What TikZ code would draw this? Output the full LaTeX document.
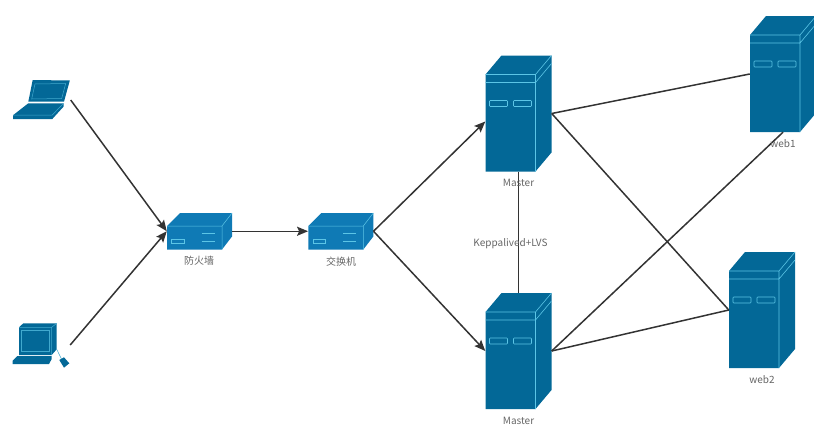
\documentclass[tikz,border=0pt]{standalone}
\usepackage{fontspec}
\setmainfont{Noto Sans CJK SC}
\usetikzlibrary{arrows.meta}
\definecolor{rackblue}{HTML}{036897}
\definecolor{boxblue}{HTML}{0F7AB5}
\definecolor{edgeblue}{HTML}{5CC5E6}
\definecolor{wiregray}{HTML}{333333}
\definecolor{labelgray}{HTML}{666666}

% tall server, (#2) is the top left corner of its front face
\newcommand{\rackbox}[2]{
  \begin{scope}[shift={(#2)}]
    \node[minimum width=66pt,minimum height=116pt,inner sep=0pt] (#1) at (33,39) {};
    \fill[rackblue] (0,0) -- (16,-19) -- (66,-19) -- (66,78) -- (50,97) -- (0,97) -- cycle;
    \draw[edgeblue,line width=.6pt] (0,0) -- (50,0) -- (66,-19) (0,8) -- (50,8) -- (66,-11) (50,0) -- (50,97);
    \draw[edgeblue,line width=.6pt,rounded corners=.8pt] (4,26) rectangle (22,32);
    \draw[edgeblue,line width=.6pt,rounded corners=.8pt] (28,26) rectangle (46,32);
  \end{scope}
}
% flat network box, same convention
\newcommand{\netbox}[2]{
  \begin{scope}[shift={(#2)}]
    \node[minimum width=65pt,minimum height=36.5pt,inner sep=0pt] (#1) at (32.5,5.25) {};
    \fill[boxblue] (0,0) -- (13,-13) -- (65,-13) -- (65,10.5) -- (55,23.5) -- (0,23.5) -- cycle;
    \draw[edgeblue,line width=.5pt] (0,0) -- (55,0) -- (65,-13) (55,0) -- (55,23.5);
    \draw[edgeblue,line width=.6pt] (4.7,13.3) rectangle (17,17.5);
    \draw[edgeblue,line width=.6pt] (34.7,7.3) -- (48,7.3) (34.7,15.7) -- (48,15.7);
  \end{scope}
}

\begin{document}
\begin{tikzpicture}[x=1pt,y=-1pt]
  \tikzstyle{wire}=[wiregray,line width=1.5pt]
  \tikzstyle{arrow}=[wire,-{Stealth[length=11pt,width=9pt,inset=2pt]}]
  \tikzstyle{lbl}=[text=labelgray,font=\fontsize{10}{12}\selectfont,inner sep=0pt]
  \tikzstyle{spot}=[minimum width=58pt,inner sep=0pt]
  \tikzstyle{thin}=[edgeblue!70!rackblue,line width=.5pt]
  \clip (0,0) rectangle (814,426);

  % laptop
  \node[spot,minimum height=40pt] (laptop) at (41.5,100) {};
  \fill[rackblue] (32.7,80) -- (69.8,80.5) -- (64,101.7) -- (28.3,101.7) -- cycle;
  \draw[thin] (35,84) -- (65.7,83.5) -- (61.7,98.5) -- (31.7,99) -- cycle;
  \fill[rackblue] (28.3,103.3) -- (63.5,103.3) -- (63.5,106.7) -- (52.3,119) -- (13,119) -- (13.3,115) -- cycle;
  \draw[thin] (13.3,115) -- (52.3,115) -- (63.5,103.3);

  % desktop with its mouse
  \node[spot,minimum height=45pt] (desktop) at (41,345) {};
  \fill[rackblue] (19,327.3) -- (23.3,323.3) -- (56.7,323.3) -- (56.7,349.3) -- (51.7,355) -- (19,355) -- cycle;
  \draw[thin] (19,327.3) -- (51.7,327.3) -- (56.7,323.3) (51.7,327.3) -- (51.7,355);
  \draw[thin] (21.7,330.7) rectangle (49.3,351.7);
  \fill[rackblue] (17.3,356) -- (51.7,356) -- (51.7,359) -- (49,364) -- (12.7,364) -- (12.7,360.7) -- cycle;
  \draw[thin] (56.7,349.3) -- (61.5,359);
  \fill[rackblue] (59.3,360) -- (64,357.3) -- (69.3,363.3) -- (64,367.7) -- cycle;

  \netbox{firewall}{167,226}
  \netbox{switch}{308.3,226}
  \rackbox{master1}{485.5,74.5}
  \rackbox{master2}{485.5,312}
  \rackbox{web1}{750,35}
  \rackbox{web2}{729,271}

  \draw[arrow] (laptop.east) -- (firewall.west);
  \draw[arrow] (desktop.east) -- (firewall.west);
  \draw[arrow] (firewall.east) -- (switch.west);
  \draw[arrow] (switch.east) -- ([yshift=-8pt]master1.west);
  \draw[arrow] (switch.east) -- (master2.west);
  \draw[wire] (master1.south) -- (master2.north);
  \draw[wire] (master1.east) -- (web1.west);
  \draw[wire] (master1.east) -- (web2.west);
  \draw[wire] (master2.east) -- (web1.south);
  \draw[wire] (master2.east) -- (web2.west);

  \node[lbl] (fwlabel) at (199,260.5) {防火墙};
  \node[lbl] (swlabel) at (341,261.7) {交换机};
  \node[lbl] (m1label) at (518.5,183) {Master};
  \node[lbl] (m2label) at (518.5,421) {Master};
  \node[lbl] (halabel) at (510.5,244) {Keppalived+LVS};
  \node[lbl] (w1label) at (783,144) {web1};
  \node[lbl] (w2label) at (762,380) {web2};
\end{tikzpicture}
\end{document}
